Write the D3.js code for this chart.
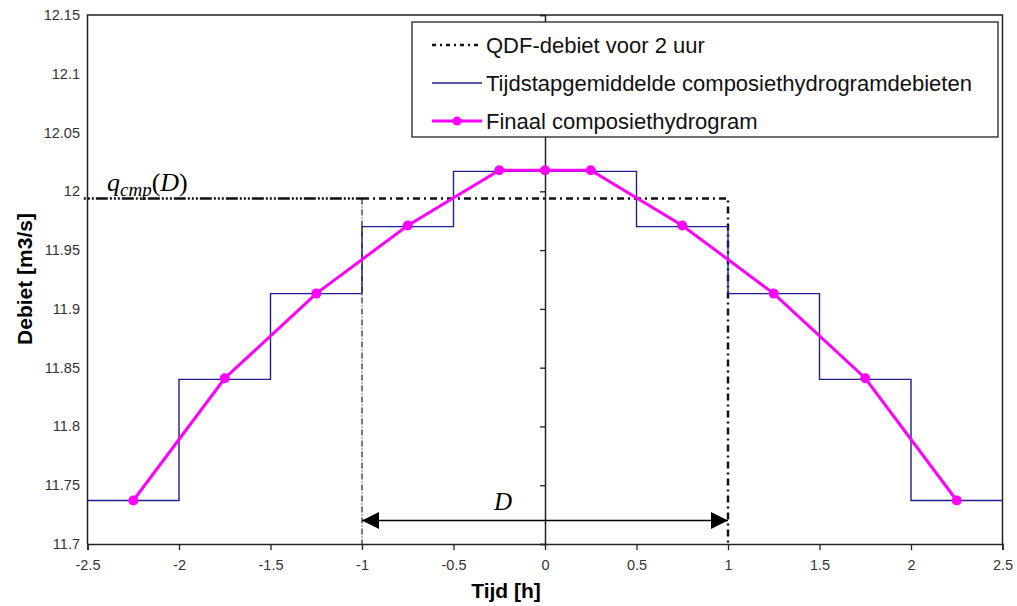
<!DOCTYPE html>
<html>
<head>
<meta charset="utf-8">
<script src="https://cdn.jsdelivr.net/npm/d3@7"></script>
<style>
  body { margin: 0; background: #fff; }
  text { font-family: Arial, "Liberation Sans", sans-serif; }
</style>
</head>
<body>
<div id="chart"></div>
<script>
// data
let stepEdges = [-2.5, -2, -1.5, -1, -0.5, 0, 0.5, 1, 1.5, 2, 2.5];
let stepValues = [11.737, 11.84, 11.913, 11.97, 12.017, 12.017, 11.97, 11.913, 11.84, 11.737];
let finalTimes = [-2.25, -1.75, -1.25, -0.75, -0.25, 0, 0.25, 0.75, 1.25, 1.75, 2.25];
let finalValues = [11.737, 11.841, 11.913, 11.971, 12.018, 12.018, 12.018, 11.971, 11.913, 11.841, 11.737];
let qdfValue = 11.994;
let durationStart = -1;
let durationEnd = 1;
let arrowLevel = 11.72;
let xTicks = [-2.5, -2, -1.5, -1, -0.5, 0, 0.5, 1, 1.5, 2, 2.5];
let yTicks = [11.7, 11.75, 11.8, 11.85, 11.9, 11.95, 12, 12.05, 12.1, 12.15];
let legendLabels = ['QDF-debiet voor 2 uur', 'Tijdstapgemiddelde composiethydrogramdebieten', 'Finaal composiethydrogram'];

let chart_width = 1017;
let chart_height = 606;

let xScale = d3.scaleLinear().domain([-2.5, 2.5]).range([87.5, 1002.5]);
let yScale = d3.scaleLinear().domain([11.7, 12.15]).range([544, 15]);

let svg = d3.select('#chart')
    .append('svg')
    .attr('width', chart_width)
    .attr('height', chart_height);

let defs = svg.append('defs');
defs.append('marker')
    .attr('id', 'arrowHead')
    .attr('viewBox', '0 0 10 10')
    .attr('refX', 10)
    .attr('refY', 5)
    .attr('markerWidth', 20)
    .attr('markerHeight', 17)
    .attr('markerUnits', 'userSpaceOnUse')
    .attr('orient', 'auto-start-reverse')
    .append('path')
    .attr('d', 'M0,0 L10,5 L0,10 Z')
    .attr('fill', '#000');

// plot frame (left, top and right border)
svg.append('path')
    .attr('d', 'M' + xScale(-2.5) + ',' + yScale(11.7) + 'V' + yScale(12.15) + 'H' + xScale(2.5) + 'V' + yScale(11.7))
    .attr('fill', 'none')
    .attr('stroke', '#222')
    .attr('stroke-width', 1.5);

// x axis along the bottom
let xAxis = d3.axisBottom(xScale)
    .tickValues(xTicks)
    .tickSize(6)
    .tickFormat(d => String(d));
let gx = svg.append('g')
    .attr('transform', 'translate(0,' + yScale(11.7) + ')')
    .call(xAxis);
gx.select('.domain').attr('stroke', '#222').attr('stroke-width', 1.5);
gx.selectAll('.tick line').attr('stroke', '#222').attr('stroke-width', 1.3);
gx.selectAll('.tick text')
    .attr('y', 12)
    .attr('dy', '0.95em')
    .attr('fill', '#333')
    .style('font-size', '14.5px');

// y axis crossing at x = 0, labels kept at the left
let yAxis = d3.axisLeft(yScale)
    .tickValues(yTicks)
    .tickSize(5)
    .tickFormat('');
let gy = svg.append('g')
    .attr('transform', 'translate(' + xScale(0) + ',0)')
    .call(yAxis);
gy.select('.domain').attr('stroke', '#222').attr('stroke-width', 1.5);
gy.selectAll('.tick line').attr('stroke', '#222').attr('stroke-width', 1.3);

svg.append('g')
    .selectAll('text')
    .data(yTicks)
    .enter()
    .append('text')
    .text(d => String(+d.toFixed(2)))
    .attr('x', 80)
    .attr('y', d => yScale(d) + 5)
    .attr('text-anchor', 'end')
    .attr('fill', '#333')
    .style('font-size', '14.5px');

// axis titles
svg.append('text')
    .text('Tijd [h]')
    .attr('x', 506)
    .attr('y', 598)
    .attr('text-anchor', 'middle')
    .style('font-size', '21px')
    .style('font-weight', 'bold');

svg.append('text')
    .text('Debiet [m3/s]')
    .attr('transform', 'translate(32,279) rotate(-90)')
    .attr('text-anchor', 'middle')
    .style('font-size', '21px')
    .style('font-weight', 'bold');

// QDF rectangle
svg.append('line')
    .attr('x1', xScale(durationStart))
    .attr('x2', xScale(durationStart))
    .attr('y1', yScale(qdfValue))
    .attr('y2', yScale(11.7))
    .attr('stroke', '#222')
    .attr('stroke-width', 1.2)
    .attr('stroke-dasharray', '6,2,1,2');

let qdf_line = d3.line()
    .x(d => xScale(d[0]))
    .y(d => yScale(d[1]));

svg.append('path')
    .datum([[-2.52, qdfValue], [durationStart, qdfValue]])
    .attr('d', qdf_line)
    .attr('fill', 'none')
    .attr('stroke', '#111')
    .attr('stroke-width', 2.5)
    .attr('stroke-dasharray', '2,2,2,2,2,2,12,2');

svg.append('path')
    .datum([[durationStart, qdfValue], [durationEnd, qdfValue], [durationEnd, 11.7]])
    .attr('d', qdf_line)
    .attr('fill', 'none')
    .attr('stroke', '#111')
    .attr('stroke-width', 2.5)
    .attr('stroke-dasharray', '7,4,2,4');

// time-step averaged hydrograph
let stepData = stepEdges.map((e, i) => ({t: e, v: stepValues[Math.min(i, stepValues.length - 1)]}));
let step_line = d3.line()
    .x(d => xScale(d.t))
    .y(d => yScale(d.v))
    .curve(d3.curveStepAfter);

svg.append('path')
    .datum(stepData)
    .attr('d', step_line)
    .attr('fill', 'none')
    .attr('stroke', '#1f1f8f')
    .attr('stroke-width', 1.4);

// final composite hydrograph
let finalData = finalTimes.map((t, i) => ({t: t, v: finalValues[i]}));
let final_line = d3.line()
    .x(d => xScale(d.t))
    .y(d => yScale(d.v));

svg.append('path')
    .datum(finalData)
    .attr('d', final_line)
    .attr('fill', 'none')
    .attr('stroke', '#ff00ff')
    .attr('stroke-width', 3);

svg.append('g')
    .selectAll('circle')
    .data(finalData)
    .enter()
    .append('circle')
    .attr('cx', d => xScale(d.t))
    .attr('cy', d => yScale(d.v))
    .attr('r', 5)
    .attr('fill', '#ff00ff');

// duration arrow
svg.append('line')
    .attr('x1', xScale(durationStart))
    .attr('x2', xScale(durationEnd))
    .attr('y1', yScale(arrowLevel))
    .attr('y2', yScale(arrowLevel))
    .attr('stroke', '#000')
    .attr('stroke-width', 1.5)
    .attr('marker-start', 'url(#arrowHead)')
    .attr('marker-end', 'url(#arrowHead)');

svg.append('text')
    .text('D')
    .attr('x', xScale(-0.23))
    .attr('y', yScale(11.729))
    .attr('text-anchor', 'middle')
    .style('font-family', '"Liberation Serif", "Times New Roman", serif')
    .style('font-style', 'italic')
    .style('font-size', '25px');

let qLabel = svg.append('text')
    .attr('x', 107)
    .attr('y', yScale(qdfValue) - 7)
    .style('font-family', '"Liberation Serif", "Times New Roman", serif')
    .style('font-style', 'italic')
    .style('font-size', '26px');
qLabel.append('tspan').text('q');
qLabel.append('tspan').text('cmp').attr('dy', 5).style('font-size', '19px');
qLabel.append('tspan').text('(').attr('dy', -5).style('font-style', 'normal');
qLabel.append('tspan').text('D');
qLabel.append('tspan').text(')').style('font-style', 'normal');

// legend
let legend = svg.append('g').attr('transform', 'translate(412,22)');
legend.append('rect')
    .attr('width', 586)
    .attr('height', 115)
    .attr('fill', '#fff')
    .attr('stroke', '#222')
    .attr('stroke-width', 1.3);

let rowY = [23, 61, 99];
legend.append('line')
    .attr('x1', 20).attr('x2', 70)
    .attr('y1', rowY[0]).attr('y2', rowY[0])
    .attr('stroke', '#111')
    .attr('stroke-width', 2.5)
    .attr('stroke-dasharray', '4,4,2,4');
legend.append('line')
    .attr('x1', 20).attr('x2', 70)
    .attr('y1', rowY[1]).attr('y2', rowY[1])
    .attr('stroke', '#1f1f8f')
    .attr('stroke-width', 1.4);
legend.append('line')
    .attr('x1', 20).attr('x2', 70)
    .attr('y1', rowY[2]).attr('y2', rowY[2])
    .attr('stroke', '#ff00ff')
    .attr('stroke-width', 3);
legend.append('circle')
    .attr('cx', 45).attr('cy', rowY[2])
    .attr('r', 4.5)
    .attr('fill', '#ff00ff');

legend.selectAll('.legendText')
    .data(legendLabels)
    .enter()
    .append('text')
    .attr('class', 'legendText')
    .text(d => d)
    .attr('x', 74)
    .attr('y', (d, i) => rowY[i] + 8)
    .attr('fill', '#111')
    .style('font-size', '22px');
</script>
</body>
</html>
